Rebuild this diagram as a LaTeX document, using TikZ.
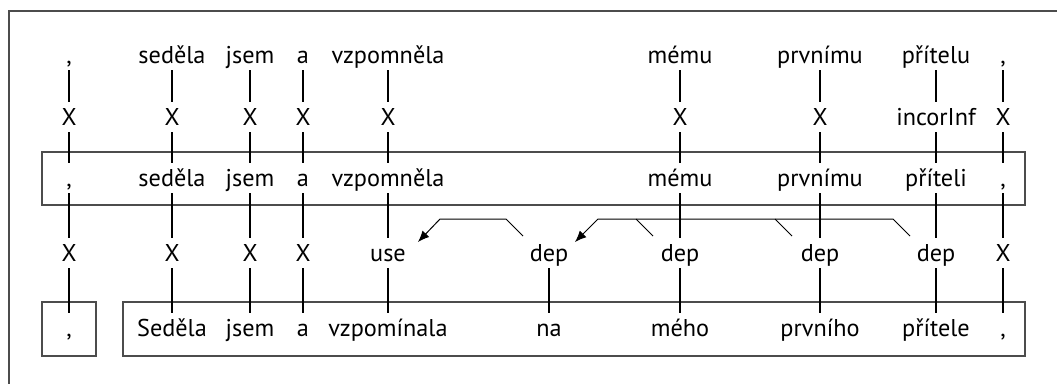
\documentclass[tikz,border=0pt]{standalone}
\usepackage{fontspec}
\setmainfont{PT Sans}
\usetikzlibrary{calc,arrows.meta}

\tikzset{
  tok/.style={font=\fontsize{18.2}{21}\selectfont, inner sep=0pt, text height=12pt, text depth=0pt, minimum height=22.5pt},
  link/.style={line width=1.5pt},
  frame/.style={draw=black!70, line width=0.8pt},
  deparc/.style={line width=0.75pt},
  deptip/.style={-{Latex[length=8.5pt,width=7pt]}},
}

\begin{document}
\begin{tikzpicture}[x=0.75pt, y=-0.75pt]
		\useasboundingbox (0,0) rectangle (1057,383);
		\clip (0,0) rectangle (1057,383);
		%%%%% START %%%%%
		\draw[frame, line width=1.2pt] (9,11) rectangle (1080,400);
		\draw[frame] (42,152) rectangle (1025,205);
		\draw[frame] (42,302) rectangle (96,356);
		\draw[frame] (123,302) rectangle (1025,356);
		
		% word forms
		\node[tok] (wc1) at (69,55) {,};
		\node[tok] (wsed) at (172,55) {seděla};
		\node[tok] (wjsem) at (250,55) {jsem};
		\node[tok] (wa) at (303,55) {a};
		\node[tok] (wvzp) at (388,55) {vzpomněla};
		\node[tok] (wmem) at (680,55) {mému};
		\node[tok] (wprv) at (820,55) {prvnímu};
		\node[tok] (wpri) at (936,55) {přítelu};
		\node[tok] (wc2) at (1003,55) {,};
		
		% error tags
		\node[tok] (tc1) at (69,117) {X};
		\node[tok] (tsed) at (172,117) {X};
		\node[tok] (tjsem) at (250,117) {X};
		\node[tok] (ta) at (303,117) {X};
		\node[tok] (tvzp) at (388,117) {X};
		\node[tok] (tmem) at (680,117) {X};
		\node[tok] (tprv) at (820,117) {X};
		\node[tok] (tpri) at (936,117) {incorInf};
		\node[tok] (tc2) at (1003,117) {X};
		
		% middle tier
		\node[tok] (mc1) at (69,178) {,};
		\node[tok] (msed) at (172,178) {seděla};
		\node[tok] (mjsem) at (250,178) {jsem};
		\node[tok] (ma) at (303,178) {a};
		\node[tok] (mvzp) at (388,178) {vzpomněla};
		\node[tok] (mmem) at (680,178) {mému};
		\node[tok] (mprv) at (820,178) {prvnímu};
		\node[tok] (mpri) at (936,178) {příteli};
		\node[tok] (mc2) at (1003,178) {,};
		
		% relations
		\node[tok] (rc1) at (69,253) {X};
		\node[tok] (rsed) at (172,253) {X};
		\node[tok] (rjsem) at (250,253) {X};
		\node[tok] (ra) at (303,253) {X};
		\node[tok] (rvzp) at (388,253) {use};
		\node[tok] (rna) at (549,253) {dep};
		\node[tok] (rmem) at (680,253) {dep};
		\node[tok] (rprv) at (820,253) {dep};
		\node[tok] (rpri) at (936,253) {dep};
		\node[tok] (rc2) at (1003,253) {X};
		
		% target
		\node[tok] (bc1) at (69,328) {,};
		\node[tok] (bsed) at (172,328) {Seděla};
		\node[tok] (bjsem) at (250,328) {jsem};
		\node[tok] (ba) at (303,328) {a};
		\node[tok] (bvzp) at (388,328) {vzpomínala};
		\node[tok] (bna) at (549,328) {na};
		\node[tok] (bmem) at (680,328) {mého};
		\node[tok] (bprv) at (820,328) {prvního};
		\node[tok] (bpri) at (936,328) {přítele};
		\node[tok] (bc2) at (1003,328) {,};
		
		\draw[link] (wc1) -- (tc1) (tc1) -- (mc1) (mc1) -- (rc1) (rc1) -- (bc1);
		\draw[link] (wsed) -- (tsed) (tsed) -- (msed) (msed) -- (rsed) (rsed) -- (bsed);
		\draw[link] (wjsem) -- (tjsem) (tjsem) -- (mjsem) (mjsem) -- (rjsem) (rjsem) -- (bjsem);
		\draw[link] (wa) -- (ta) (ta) -- (ma) (ma) -- (ra) (ra) -- (ba);
		\draw[link] (wvzp) -- (tvzp) (tvzp) -- (mvzp) (mvzp) -- (rvzp) (rvzp) -- (bvzp);
		\draw[link] (rna) -- (bna);
		\draw[link] (wmem) -- (tmem) (tmem) -- (mmem) (mmem) -- (rmem) (rmem) -- (bmem);
		\draw[link] (wprv) -- (tprv) (tprv) -- (mprv) (mprv) -- (rprv) (rprv) -- (bprv);
		\draw[link] (wpri) -- (tpri) (tpri) -- (mpri) (mpri) -- (rpri) (rpri) -- (bpri);
		\draw[link] (wc2) -- (tc2) (tc2) -- (mc2) (mc2) -- (rc2) (rc2) -- (bc2);
		
		\draw[deparc, deptip] ($(rna)+(-26,-17)$) -- ++(-17,-17) -- ($(rvzp)+(52,-34)$) -- ($(rvzp)+(30,-11)$);
		\draw[deparc, deptip] ($(rpri)+(-26,-17)$) -- ++(-17,-17) -- ($(rna)+(49,-34)$) -- ($(rna)+(26,-11)$);
		\draw[deparc] ($(rmem)+(-27,-17)$) -- ++(-17,-17);
		\draw[deparc] ($(rprv)+(-28,-17)$) -- ++(-17,-17);
		%%%%% END %%%%%
\end{tikzpicture}
\end{document}
